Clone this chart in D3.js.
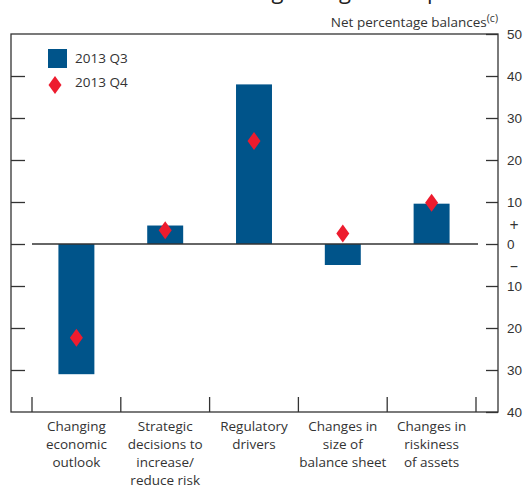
<!DOCTYPE html>
<html>
<head>
<meta charset="utf-8">
<script src="https://cdn.jsdelivr.net/npm/d3@7"></script>
<style>
  body { margin: 0; background: #fff; }
  svg { display: block; font-family: 'Open Sans', sans-serif; }
</style>
</head>
<body>
<div id="chart"></div>
<script>
const categories = ['Changing economic outlook', 'Strategic decisions to increase/ reduce risk',
  'Regulatory drivers', 'Changes in size of balance sheet', 'Changes in riskiness of assets'];
const categoryLines = [
  ['Changing', 'economic', 'outlook'],
  ['Strategic', 'decisions to', 'increase/', 'reduce risk'],
  ['Regulatory', 'drivers'],
  ['Changes in', 'size of', 'balance sheet'],
  ['Changes in', 'riskiness', 'of assets'],
];
const q3 = [-31, 4.4, 38, -5, 9.6];
const q4 = [-22.3, 3.3, 24.5, 2.5, 9.8];
const yTicks = [-40, -30, -20, -10, 0, 10, 20, 30, 40, 50];

const width = 526;
const height = 488;
const frame = { left: 11, right: 498, top: 34, bottom: 412 };
const blue = '#00548A';
const red = '#ED1C2E';
const ink = '#333';

const svg = d3.select('#chart')
  .append('svg')
  .attr('width', width)
  .attr('height', height);

const x = d3.scaleBand()
  .domain(categories)
  .range([32, 476]);

const y = d3.scaleLinear()
  .domain([-40, 50])
  .range([frame.bottom, frame.top]);

// title, cut off at the top edge as in the source crop
const title = svg.append('text')
  .attr('x', 14)
  .attr('y', -1)
  .style('font-size', '22px');
title.append('tspan').attr('fill', '#8fa8d8').text('Chart B.3 ');
title.append('tspan').attr('fill', '#222').text('Factors affecting changes in capital');

svg.append('text')
  .attr('x', 498)
  .attr('y', 27)
  .attr('text-anchor', 'end')
  .attr('fill', ink)
  .style('font-size', '13.5px')
  .text('Net percentage balances')
  .append('tspan')
  .attr('dy', -5)
  .style('font-size', '10.5px')
  .text('(c)');

// frame
svg.append('rect')
  .attr('x', frame.left)
  .attr('y', frame.top)
  .attr('width', frame.right - frame.left)
  .attr('height', frame.bottom - frame.top)
  .attr('fill', 'none')
  .attr('stroke', ink)
  .attr('stroke-width', 1.3);

// right axis, ticks pointing inwards
const rightAxis = svg.append('g')
  .attr('transform', `translate(${frame.right},0)`)
  .call(d3.axisRight(y)
    .tickValues(yTicks)
    .tickSizeInner(-12)
    .tickSizeOuter(0)
    .tickPadding(9)
    .tickFormat((d) => Math.abs(d)));
rightAxis.select('.domain').remove();
rightAxis.selectAll('line').attr('stroke', ink).attr('stroke-width', 1.3);
rightAxis.selectAll('text').attr('fill', ink).style('font-size', '13.5px');

// left axis ticks, no labels
const leftAxis = svg.append('g')
  .attr('transform', `translate(${frame.left},0)`)
  .call(d3.axisLeft(y)
    .tickValues(yTicks.slice(1, -1))
    .tickSizeInner(-14)
    .tickSizeOuter(0)
    .tickFormat(''));
leftAxis.select('.domain').remove();
leftAxis.selectAll('line').attr('stroke', ink).attr('stroke-width', 1.3);

// plus / minus signs
svg.append('text')
  .attr('x', 514)
  .attr('y', y(4.5))
  .attr('text-anchor', 'middle')
  .attr('dominant-baseline', 'central')
  .attr('fill', ink)
  .style('font-size', '16px')
  .text('+');
svg.append('text')
  .attr('x', 514)
  .attr('y', y(-5))
  .attr('text-anchor', 'middle')
  .attr('dominant-baseline', 'central')
  .attr('fill', ink)
  .style('font-size', '16px')
  .text('\u2013');

// category boundary ticks along the bottom
const bounds = categories.map((c) => x(c)).concat([x.range()[1]]);
svg.append('g')
  .selectAll('line')
  .data(bounds)
  .enter()
  .append('line')
  .attr('x1', (d) => d)
  .attr('x2', (d) => d)
  .attr('y1', frame.bottom)
  .attr('y2', frame.bottom - 15)
  .attr('stroke', ink)
  .attr('stroke-width', 1.3);

// bars
const barW = x.bandwidth() * 0.405;
svg.append('g')
  .selectAll('rect')
  .data(q3)
  .enter()
  .append('rect')
  .attr('x', (d, i) => x(categories[i]) + (x.bandwidth() - barW) / 2)
  .attr('y', (d) => y(Math.max(0, d)))
  .attr('width', barW)
  .attr('height', (d) => Math.abs(y(d) - y(0)))
  .attr('fill', blue);

// zero line
svg.append('line')
  .attr('x1', 32)
  .attr('x2', 478)
  .attr('y1', y(0))
  .attr('y2', y(0))
  .attr('stroke', ink)
  .attr('stroke-width', 1.3);

// diamonds
const diamond = 'M0,-9L6.5,0L0,9L-6.5,0Z';
svg.append('g')
  .selectAll('path')
  .data(q4)
  .enter()
  .append('path')
  .attr('d', diamond)
  .attr('transform', (d, i) => `translate(${x(categories[i]) + x.bandwidth() / 2},${y(d)})`)
  .attr('fill', red);

// category labels
const labels = svg.append('g')
  .selectAll('text')
  .data(categoryLines)
  .enter()
  .append('text')
  .attr('text-anchor', 'middle')
  .attr('fill', ink)
  .style('font-size', '13.5px')
  .attr('transform', (d, i) => `translate(${x(categories[i]) + x.bandwidth() / 2},431)`);
labels.selectAll('tspan')
  .data((d) => d)
  .enter()
  .append('tspan')
  .attr('x', 0)
  .attr('y', (d, i) => i * 18)
  .text((d) => d);

// legend
const legend = svg.append('g');
legend.append('rect')
  .attr('x', 48)
  .attr('y', 49)
  .attr('width', 19)
  .attr('height', 19)
  .attr('fill', blue);
legend.append('text')
  .attr('x', 75)
  .attr('y', 63)
  .attr('fill', ink)
  .style('font-size', '13.5px')
  .text('2013 Q3');
legend.append('path')
  .attr('d', diamond)
  .attr('transform', 'translate(55,85)')
  .attr('fill', red);
legend.append('text')
  .attr('x', 75)
  .attr('y', 87)
  .attr('fill', ink)
  .style('font-size', '13.5px')
  .text('2013 Q4');
</script>
</body>
</html>
